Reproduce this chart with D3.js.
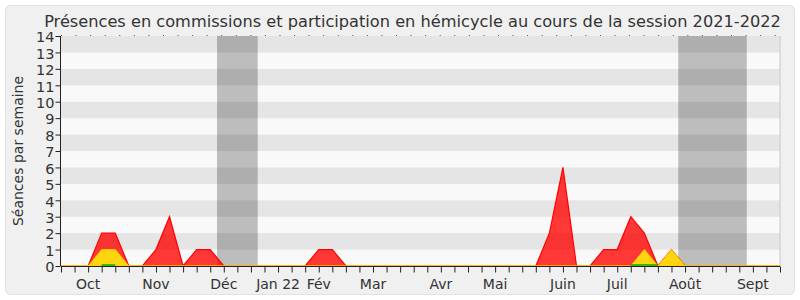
<!DOCTYPE html>
<html>
<head>
<meta charset="utf-8">
<script src="https://cdn.jsdelivr.net/npm/d3@7"></script>
<style>
	body { margin: 0; background: #ffffff; }
	text { font-family: "DejaVu Sans", sans-serif; fill: #333333; }
</style>
</head>
<body>
<div id="chart"></div>
<script>
// weekly values, one per week of the session (week 0 = late september)
var presences = [0,0,0,2,2,0,0,1,3,0,1,1,0,0,0,0,0,0,0,1,1,0,0,0,0,0,0,0,0,0,0,0,0,0,0,0,2,6,0,0,1,1,3,2,0,1,0,0,0,0,0,0,0,0];
var participations = [0,0,0,1,1,0,0,0,0,0,0,0,0,0,0,0,0,0,0,0,0,0,0,0,0,0,0,0,0,0,0,0,0,0,0,0,0,0,0,0,0,0,0,1,0,1,0,0,0,0,0,0,0,0];
var interventions = [null,null,null,0,0,null,null,null,null,null,null,null,null,null,null,null,null,null,null,null,null,null,null,null,null,null,null,null,null,null,null,null,null,null,null,null,null,null,null,null,null,null,0,0,0,null,null,null,null,null,null,null,null,null];

// month labels and the week they sit on
var month_labels = ["Oct", "Nov", "Déc", "Jan 22", "Fév", "Mar", "Avr", "Mai", "Juin", "Juil", "Août", "Sept"];
var month_weeks = [2, 7, 12, 16, 19, 23, 28, 32, 37, 41, 46, 51];

// holiday periods (start week, end week)
var vacances = [[11.5, 14.5], [45.5, 50.55]];

var y_ticks = d3.range(0, 15);

var w = 800, h = 300;
var nb_weeks = 53;

var svg = d3.select("#chart")
	.append("svg")
	.attr("width", w)
	.attr("height", h);

// panel
svg.append("rect")
	.attr("x", 5.5)
	.attr("y", 5.5)
	.attr("width", 789)
	.attr("height", 289)
	.attr("rx", 5)
	.style("fill", "#f0f0f0")
	.style("stroke", "#e2e2e2");

var x = d3.scaleLinear().domain([0, nb_weeks]).range([61, 780]);
var y = d3.scaleLinear().domain([0, 14]).range([266, 36]);

// stripes
svg.selectAll(".stripe")
	.data(d3.range(0, 14))
	.enter().append("rect")
	.attr("class", "stripe")
	.attr("x", x(0))
	.attr("width", x(nb_weeks) - x(0))
	.attr("y", function(d) { return y(d + 1); })
	.attr("height", function(d) { return y(d) - y(d + 1); })
	.style("fill", function(d) { return d % 2 == 1 ? "#e5e5e5" : "#f9f9f9"; });

// holidays
svg.selectAll(".vac")
	.data(vacances)
	.enter().append("rect")
	.attr("class", "vac")
	.attr("x", function(d) { return x(d[0]); })
	.attr("width", function(d) { return x(d[1]) - x(d[0]); })
	.attr("y", y(14))
	.attr("height", y(0) - y(14))
	.style("fill", "rgba(0,0,0,0.24)");

// right border of plot
svg.append("line")
	.attr("x1", x(nb_weeks)).attr("x2", x(nb_weeks))
	.attr("y1", y(14)).attr("y2", y(0))
	.style("stroke", "#c8c8c8");

// areas
var area = function(vals) {
	return d3.area()
		.x(function(d, i) { return x(i); })
		.y0(y(0))
		.y1(function(d) { return y(d); })(vals);
};
var line = function(vals) {
	return d3.line()
		.defined(function(d) { return d !== null; })
		.x(function(d, i) { return x(i); })
		.y(function(d) { return y(d) - 1; })(vals);
};

svg.append("path")
	.attr("d", area(presences))
	.style("fill", "rgba(255,0,0,0.78)")
	.style("stroke", "#ff0000")
	.style("stroke-width", 1.2);

svg.append("path")
	.attr("d", area(participations))
	.style("fill", "#ffd510")
	.style("stroke", "#ffcc00")
	.style("stroke-width", 1);

svg.append("path")
	.attr("d", line(interventions))
	.style("fill", "none")
	.style("stroke", "#00aa00")
	.style("stroke-width", 1.5);

// y axis
var yAxis = d3.axisLeft(y).tickValues(y_ticks).tickSize(5).tickPadding(1);
var gy = svg.append("g")
	.attr("transform", "translate(" + (x(0) - 0.5) + ",0)")
	.call(yAxis);
gy.select(".domain").style("stroke", "#222").attr("d", "M0," + y(14) + "V" + y(0));
gy.selectAll("line").style("stroke", "#222");
gy.selectAll("text").style("font-size", "14.5px").style("font-family", "DejaVu Sans").style("fill", "#333").attr("dy", "0.4em");

// x axis, one tick per week
var xAxis = d3.axisBottom(x).tickValues(d3.range(0, nb_weeks + 1)).tickSize(6).tickFormat("");
var gx = svg.append("g")
	.attr("transform", "translate(0," + (y(0) + 0.5) + ")")
	.call(xAxis);
gx.select(".domain").style("stroke", "#222").attr("d", "M" + x(0) + ",0H" + x(nb_weeks));
gx.selectAll("line").style("stroke", "#222");

// top dotted axis
svg.append("line")
	.attr("x1", x(0)).attr("x2", x(nb_weeks))
	.attr("y1", y(14) - 0.5).attr("y2", y(14) - 0.5)
	.style("stroke", "#555")
	.style("stroke-dasharray", "1,13.566")
	.style("stroke-dashoffset", 0);

// month labels
svg.selectAll(".month")
	.data(month_labels)
	.enter().append("text")
	.attr("class", "month")
	.attr("x", function(d, i) { return x(month_weeks[i]); })
	.attr("y", 289)
	.attr("text-anchor", "middle")
	.style("font-size", "14px")
	.text(function(d) { return d; });

// y label
svg.append("text")
	.attr("transform", "translate(23," + ((y(0) + y(14)) / 2) + ") rotate(-90)")
	.attr("text-anchor", "middle")
	.style("font-size", "14px")
	.text("Séances par semaine");

// title
svg.append("text")
	.attr("x", 412.5)
	.attr("y", 26.5)
	.attr("text-anchor", "middle")
	.style("font-size", "16.2px")
	.text("Présences en commissions et participation en hémicycle au cours de la session 2021-2022");
</script>
</body>
</html>
